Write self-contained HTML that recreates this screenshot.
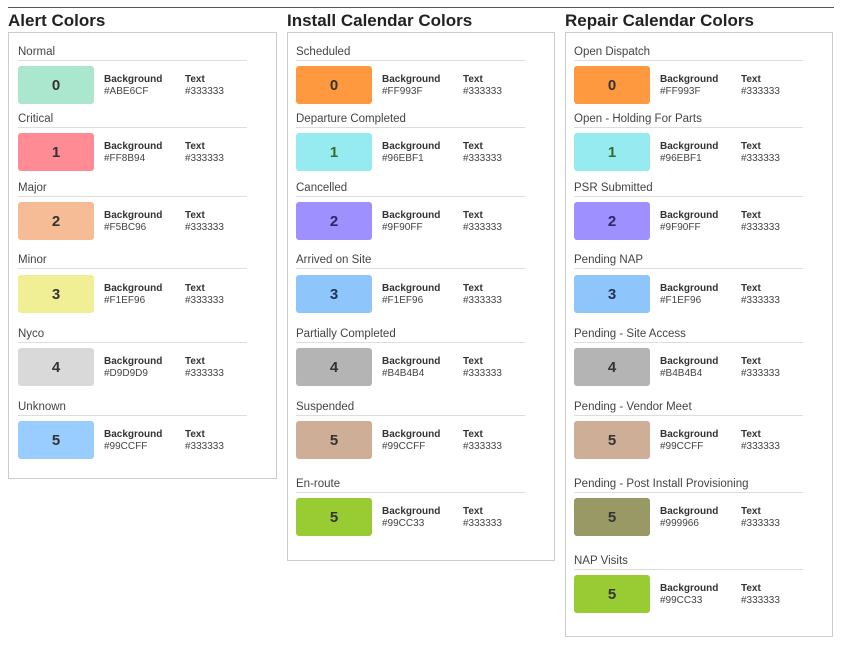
<!DOCTYPE html><html><head><style>
body{margin:0;width:842px;height:649px;background:#fff;position:relative;font-family:"Liberation Sans","DejaVu Sans",sans-serif;color:#333;overflow:hidden}
.a{position:absolute}
.t{font-size:17px;font-weight:bold;color:#222;top:11px}
.p{border:1px solid #ccc;background:#fff}
.l{font-size:11.5px;color:#444;margin-top:2px}
.ln{height:1px;background:#ddd;width:229px}
.s{width:76px;height:38px;border-radius:3px;font-weight:bold;font-size:15px;display:flex;align-items:center;justify-content:center}
.b{font-size:10px;font-weight:bold;color:#333;margin-top:1px}
.h{font-size:10px;color:#444;margin-top:0px}
</style></head><body>
<div class="a" style="left:8px;top:7px;width:826px;height:1px;background:#555"></div>
<div class="a t" style="left:8px">Alert Colors</div>
<div class="a t" style="left:287px">Install Calendar Colors</div>
<div class="a t" style="left:565px">Repair Calendar Colors</div>
<div class="a p" style="left:8px;top:32px;width:267px;height:445px"></div>
<div class="a p" style="left:287px;top:32px;width:266px;height:527px"></div>
<div class="a p" style="left:565px;top:32px;width:266px;height:603px"></div>

<!-- col1 -->
<div class="a l" style="left:18px;top:44px">Normal</div><div class="a ln" style="left:18px;top:60px"></div>
<div class="a s" style="left:18px;top:66px;background:#ABE6CF">0</div><div class="a b" style="left:104px;top:73px">Background</div><div class="a h" style="left:104px;top:86px">#ABE6CF</div><div class="a b" style="left:185px;top:73px">Text</div><div class="a h" style="left:185px;top:86px">#333333</div>
<div class="a l" style="left:18px;top:111px">Critical</div><div class="a ln" style="left:18px;top:127px"></div>
<div class="a s" style="left:18px;top:133px;background:#FF8B94">1</div><div class="a b" style="left:104px;top:140px">Background</div><div class="a h" style="left:104px;top:153px">#FF8B94</div><div class="a b" style="left:185px;top:140px">Text</div><div class="a h" style="left:185px;top:153px">#333333</div>
<div class="a l" style="left:18px;top:180px">Major</div><div class="a ln" style="left:18px;top:196px"></div>
<div class="a s" style="left:18px;top:202px;background:#F5BC96">2</div><div class="a b" style="left:104px;top:209px">Background</div><div class="a h" style="left:104px;top:222px">#F5BC96</div><div class="a b" style="left:185px;top:209px">Text</div><div class="a h" style="left:185px;top:222px">#333333</div>
<div class="a l" style="left:18px;top:252px">Minor</div><div class="a ln" style="left:18px;top:268px"></div>
<div class="a s" style="left:18px;top:275px;background:#F1EF96">3</div><div class="a b" style="left:104px;top:282px">Background</div><div class="a h" style="left:104px;top:295px">#F1EF96</div><div class="a b" style="left:185px;top:282px">Text</div><div class="a h" style="left:185px;top:295px">#333333</div>
<div class="a l" style="left:18px;top:326px">Nyco</div><div class="a ln" style="left:18px;top:342px"></div>
<div class="a s" style="left:18px;top:348px;background:#D9D9D9">4</div><div class="a b" style="left:104px;top:355px">Background</div><div class="a h" style="left:104px;top:368px">#D9D9D9</div><div class="a b" style="left:185px;top:355px">Text</div><div class="a h" style="left:185px;top:368px">#333333</div>
<div class="a l" style="left:18px;top:399px">Unknown</div><div class="a ln" style="left:18px;top:415px"></div>
<div class="a s" style="left:18px;top:421px;background:#99CCFF">5</div><div class="a b" style="left:104px;top:428px">Background</div><div class="a h" style="left:104px;top:441px">#99CCFF</div><div class="a b" style="left:185px;top:428px">Text</div><div class="a h" style="left:185px;top:441px">#333333</div>

<!-- col2 -->
<div class="a l" style="left:296px;top:44px">Scheduled</div><div class="a ln" style="left:296px;top:60px"></div>
<div class="a s" style="left:296px;top:66px;background:#FF993F">0</div><div class="a b" style="left:382px;top:73px">Background</div><div class="a h" style="left:382px;top:86px">#FF993F</div><div class="a b" style="left:463px;top:73px">Text</div><div class="a h" style="left:463px;top:86px">#333333</div>
<div class="a l" style="left:296px;top:111px">Departure Completed</div><div class="a ln" style="left:296px;top:127px"></div>
<div class="a s" style="left:296px;top:133px;background:#96EBF1;color:#3d6a2a">1</div><div class="a b" style="left:382px;top:140px">Background</div><div class="a h" style="left:382px;top:153px">#96EBF1</div><div class="a b" style="left:463px;top:140px">Text</div><div class="a h" style="left:463px;top:153px">#333333</div>
<div class="a l" style="left:296px;top:180px">Cancelled</div><div class="a ln" style="left:296px;top:196px"></div>
<div class="a s" style="left:296px;top:202px;background:#9F90FF;color:#262a5e">2</div><div class="a b" style="left:382px;top:209px">Background</div><div class="a h" style="left:382px;top:222px">#9F90FF</div><div class="a b" style="left:463px;top:209px">Text</div><div class="a h" style="left:463px;top:222px">#333333</div>
<div class="a l" style="left:296px;top:252px">Arrived on Site</div><div class="a ln" style="left:296px;top:268px"></div>
<div class="a s" style="left:296px;top:275px;background:#8EC6FB;color:#223355">3</div><div class="a b" style="left:382px;top:282px">Background</div><div class="a h" style="left:382px;top:295px">#F1EF96</div><div class="a b" style="left:463px;top:282px">Text</div><div class="a h" style="left:463px;top:295px">#333333</div>
<div class="a l" style="left:296px;top:326px">Partially Completed</div><div class="a ln" style="left:296px;top:342px"></div>
<div class="a s" style="left:296px;top:348px;background:#B4B4B4">4</div><div class="a b" style="left:382px;top:355px">Background</div><div class="a h" style="left:382px;top:368px">#B4B4B4</div><div class="a b" style="left:463px;top:355px">Text</div><div class="a h" style="left:463px;top:368px">#333333</div>
<div class="a l" style="left:296px;top:399px">Suspended</div><div class="a ln" style="left:296px;top:415px"></div>
<div class="a s" style="left:296px;top:421px;background:#CFAE98">5</div><div class="a b" style="left:382px;top:428px">Background</div><div class="a h" style="left:382px;top:441px">#99CCFF</div><div class="a b" style="left:463px;top:428px">Text</div><div class="a h" style="left:463px;top:441px">#333333</div>
<div class="a l" style="left:296px;top:476px">En-route</div><div class="a ln" style="left:296px;top:492px"></div>
<div class="a s" style="left:296px;top:498px;background:#99CC33">5</div><div class="a b" style="left:382px;top:505px">Background</div><div class="a h" style="left:382px;top:518px">#99CC33</div><div class="a b" style="left:463px;top:505px">Text</div><div class="a h" style="left:463px;top:518px">#333333</div>

<!-- col3 -->
<div class="a l" style="left:574px;top:44px">Open Dispatch</div><div class="a ln" style="left:574px;top:60px"></div>
<div class="a s" style="left:574px;top:66px;background:#FF993F">0</div><div class="a b" style="left:660px;top:73px">Background</div><div class="a h" style="left:660px;top:86px">#FF993F</div><div class="a b" style="left:741px;top:73px">Text</div><div class="a h" style="left:741px;top:86px">#333333</div>
<div class="a l" style="left:574px;top:111px">Open - Holding For Parts</div><div class="a ln" style="left:574px;top:127px"></div>
<div class="a s" style="left:574px;top:133px;background:#96EBF1;color:#3d6a2a">1</div><div class="a b" style="left:660px;top:140px">Background</div><div class="a h" style="left:660px;top:153px">#96EBF1</div><div class="a b" style="left:741px;top:140px">Text</div><div class="a h" style="left:741px;top:153px">#333333</div>
<div class="a l" style="left:574px;top:180px">PSR Submitted</div><div class="a ln" style="left:574px;top:196px"></div>
<div class="a s" style="left:574px;top:202px;background:#9F90FF;color:#262a5e">2</div><div class="a b" style="left:660px;top:209px">Background</div><div class="a h" style="left:660px;top:222px">#9F90FF</div><div class="a b" style="left:741px;top:209px">Text</div><div class="a h" style="left:741px;top:222px">#333333</div>
<div class="a l" style="left:574px;top:252px">Pending NAP</div><div class="a ln" style="left:574px;top:268px"></div>
<div class="a s" style="left:574px;top:275px;background:#8EC6FB;color:#223355">3</div><div class="a b" style="left:660px;top:282px">Background</div><div class="a h" style="left:660px;top:295px">#F1EF96</div><div class="a b" style="left:741px;top:282px">Text</div><div class="a h" style="left:741px;top:295px">#333333</div>
<div class="a l" style="left:574px;top:326px">Pending - Site Access</div><div class="a ln" style="left:574px;top:342px"></div>
<div class="a s" style="left:574px;top:348px;background:#B4B4B4">4</div><div class="a b" style="left:660px;top:355px">Background</div><div class="a h" style="left:660px;top:368px">#B4B4B4</div><div class="a b" style="left:741px;top:355px">Text</div><div class="a h" style="left:741px;top:368px">#333333</div>
<div class="a l" style="left:574px;top:399px">Pending - Vendor Meet</div><div class="a ln" style="left:574px;top:415px"></div>
<div class="a s" style="left:574px;top:421px;background:#CFAE98">5</div><div class="a b" style="left:660px;top:428px">Background</div><div class="a h" style="left:660px;top:441px">#99CCFF</div><div class="a b" style="left:741px;top:428px">Text</div><div class="a h" style="left:741px;top:441px">#333333</div>
<div class="a l" style="left:574px;top:476px">Pending - Post Install Provisioning</div><div class="a ln" style="left:574px;top:492px"></div>
<div class="a s" style="left:574px;top:498px;background:#999966">5</div><div class="a b" style="left:660px;top:505px">Background</div><div class="a h" style="left:660px;top:518px">#999966</div><div class="a b" style="left:741px;top:505px">Text</div><div class="a h" style="left:741px;top:518px">#333333</div>
<div class="a l" style="left:574px;top:553px">NAP Visits</div><div class="a ln" style="left:574px;top:569px"></div>
<div class="a s" style="left:574px;top:575px;background:#99CC33">5</div><div class="a b" style="left:660px;top:582px">Background</div><div class="a h" style="left:660px;top:595px">#99CC33</div><div class="a b" style="left:741px;top:582px">Text</div><div class="a h" style="left:741px;top:595px">#333333</div>
</body></html>
